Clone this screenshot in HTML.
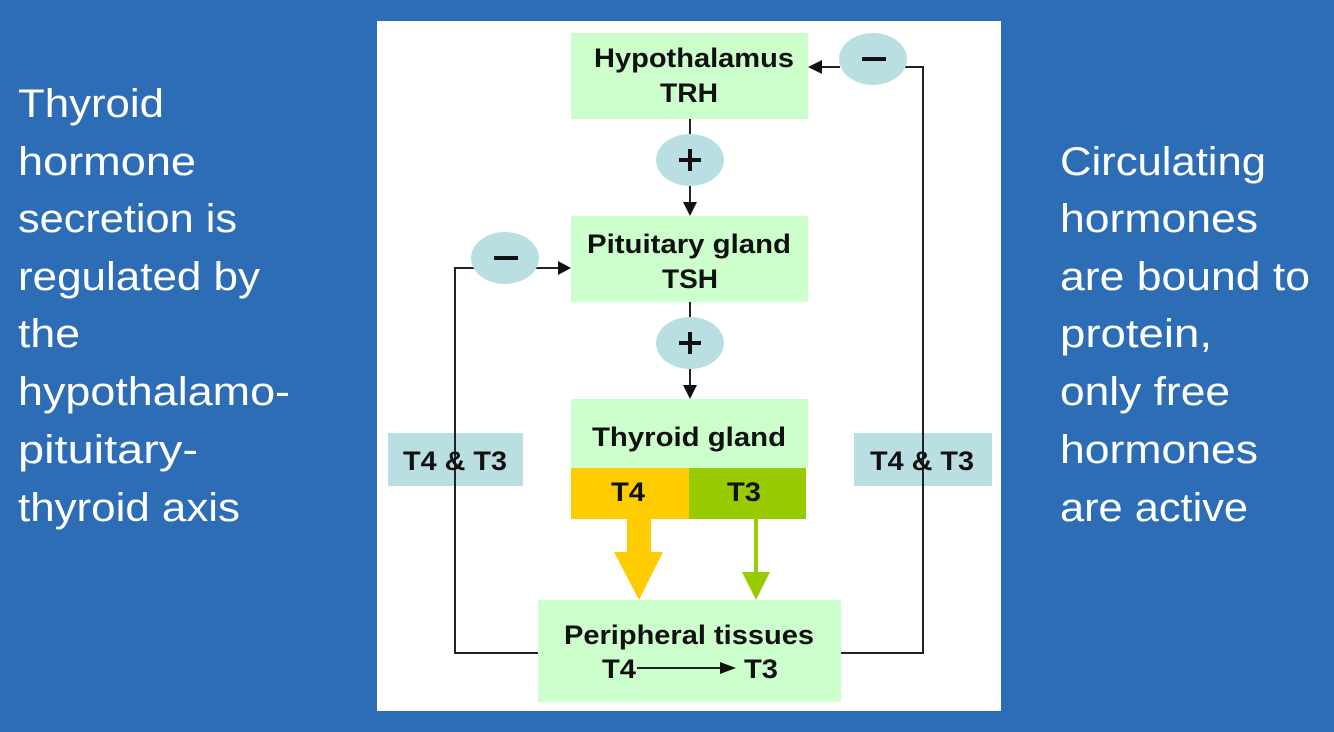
<!DOCTYPE html>
<html><head><meta charset="utf-8"><style>
html,body{margin:0;padding:0;background:#2d6db6;}
svg{display:block}
.s{font-family:"Liberation Sans",sans-serif;fill:#fff;font-size:40px}
.d{font-family:"Liberation Sans",sans-serif;font-weight:bold;font-size:27px;fill:#111}
</style></head><body>
<svg width="1334" height="732" viewBox="0 0 1334 732" xmlns="http://www.w3.org/2000/svg">
<rect width="1334" height="732" fill="#2d6db6"/>
<g class="s">
<text x="18" y="117" textLength="146" lengthAdjust="spacingAndGlyphs">Thyroid</text>
<text x="18" y="175" textLength="178" lengthAdjust="spacingAndGlyphs">hormone</text>
<text x="18" y="232" textLength="219" lengthAdjust="spacingAndGlyphs">secretion is</text>
<text x="18" y="290" textLength="242" lengthAdjust="spacingAndGlyphs">regulated by</text>
<text x="18" y="347" textLength="62" lengthAdjust="spacingAndGlyphs">the</text>
<text x="18" y="405" textLength="272" lengthAdjust="spacingAndGlyphs">hypothalamo-</text>
<text x="18" y="463" textLength="180" lengthAdjust="spacingAndGlyphs">pituitary-</text>
<text x="18" y="521" textLength="222" lengthAdjust="spacingAndGlyphs">thyroid axis</text>
<text x="1060" y="175" textLength="206" lengthAdjust="spacingAndGlyphs">Circulating</text>
<text x="1060" y="232" textLength="198" lengthAdjust="spacingAndGlyphs">hormones</text>
<text x="1060" y="290" textLength="250" lengthAdjust="spacingAndGlyphs">are bound to</text>
<text x="1060" y="347" textLength="152" lengthAdjust="spacingAndGlyphs">protein,</text>
<text x="1060" y="405" textLength="170" lengthAdjust="spacingAndGlyphs">only free</text>
<text x="1060" y="463" textLength="198" lengthAdjust="spacingAndGlyphs">hormones</text>
<text x="1060" y="521" textLength="188" lengthAdjust="spacingAndGlyphs">are active</text>
</g>
<rect x="377" y="21" width="624" height="690" fill="#fff"/>
<rect x="571" y="33" width="237" height="86" fill="#ccffcc"/>
<rect x="571" y="216" width="237" height="86" fill="#ccffcc"/>
<rect x="571" y="399" width="237" height="69" fill="#ccffcc"/>
<rect x="571" y="468" width="118" height="51" fill="#ffcc00"/>
<rect x="689" y="468" width="117" height="51" fill="#99cc00"/>
<rect x="538" y="600" width="303" height="102" fill="#ccffcc"/>
<rect x="388" y="433" width="135" height="53" fill="#b9dfe3"/>
<rect x="854" y="433" width="138" height="53" fill="#b9dfe3"/>
<g stroke="#222" stroke-width="2" fill="none">
<line x1="690" y1="119" x2="690" y2="140"/>
<line x1="690" y1="180" x2="690" y2="204"/>
<line x1="690" y1="302" x2="690" y2="323"/>
<line x1="690" y1="363" x2="690" y2="387"/>
<polyline points="538,653 455,653 455,268 475,268"/>
<line x1="535" y1="268" x2="560" y2="268"/>
<polyline points="841,653 923,653 923,67 905,67"/>
<line x1="840" y1="67" x2="820" y2="67"/>
<line x1="637" y1="668" x2="722" y2="668"/>
</g>
<g fill="#111">
<polygon points="683,202 697,202 690,216"/>
<polygon points="683,385 697,385 690,399"/>
<polygon points="558,261 558,275 571,268"/>
<polygon points="822,60 822,74 808,67"/>
<polygon points="720,662 720,674 736,668"/>
</g>
<g fill="#b9dfe3">
<ellipse cx="690" cy="160" rx="34" ry="26"/>
<ellipse cx="690" cy="343" rx="34" ry="26"/>
<ellipse cx="505" cy="258" rx="34" ry="26"/>
<ellipse cx="873" cy="59" rx="34" ry="26"/>
</g>
<g fill="#111">
<rect x="679" y="158" width="22" height="4"/><rect x="688" y="149" width="4" height="22"/>
<rect x="679" y="341" width="22" height="4"/><rect x="688" y="332" width="4" height="22"/>
<rect x="494" y="256" width="24" height="4"/>
<rect x="862" y="57" width="24" height="4"/>
</g>
<polygon points="627,519 651,519 651,552 663,552 639,600 614,552 627,552" fill="#ffcc00"/>
<rect x="754" y="519" width="4" height="54" fill="#99cc00"/>
<polygon points="742,572 770,572 756,600" fill="#99cc00"/>
<g class="d" text-anchor="middle">
<text x="694" y="67" textLength="200" lengthAdjust="spacingAndGlyphs">Hypothalamus</text>
<text x="689" y="102" textLength="58" lengthAdjust="spacingAndGlyphs">TRH</text>
<text x="689" y="253" textLength="204" lengthAdjust="spacingAndGlyphs">Pituitary gland</text>
<text x="690" y="288" textLength="56" lengthAdjust="spacingAndGlyphs">TSH</text>
<text x="689" y="446" textLength="194" lengthAdjust="spacingAndGlyphs">Thyroid gland</text>
<text x="628" y="501" textLength="34" lengthAdjust="spacingAndGlyphs">T4</text>
<text x="744" y="501" textLength="34" lengthAdjust="spacingAndGlyphs">T3</text>
<text x="689" y="644" textLength="250" lengthAdjust="spacingAndGlyphs">Peripheral tissues</text>
<text x="619" y="678" textLength="34" lengthAdjust="spacingAndGlyphs">T4</text>
<text x="761" y="678" textLength="34" lengthAdjust="spacingAndGlyphs">T3</text>
<text x="455" y="470" textLength="104" lengthAdjust="spacingAndGlyphs">T4 &amp; T3</text>
<text x="922" y="470" textLength="104" lengthAdjust="spacingAndGlyphs">T4 &amp; T3</text>
</g>
</svg>
</body></html>
